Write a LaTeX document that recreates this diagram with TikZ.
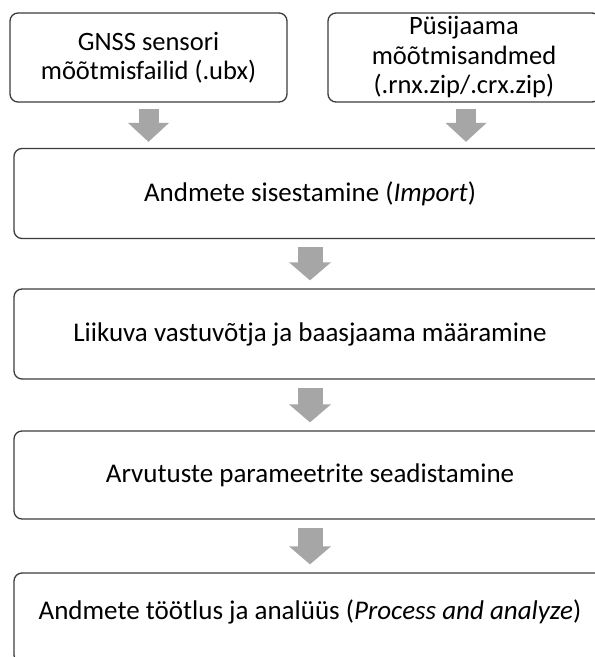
\documentclass[tikz,border=0pt]{standalone}
\usepackage{fontspec}
\setmainfont{Carlito}
\usetikzlibrary{arrows.meta}
\definecolor{boxline}{HTML}{3C3C3C}
\definecolor{arrowgray}{HTML}{A6A6A6}
\tikzset{
  flowbox/.style={draw=boxline, line width=1.3pt, rounded corners=8pt, fill=white, inner sep=0pt, align=center, font=\fontsize{26.5}{29.5}\selectfont},
  mainbox/.style={flowbox, minimum width=592pt, minimum height=90pt, font=\fontsize{27}{30}\selectfont},
  blockarrow/.style={draw=arrowgray, line width=25pt, -{Triangle[width=41pt,length=18pt,fill=arrowgray]}, shorten <=8pt, shorten >=8pt},
  smallarrow/.style={draw=arrowgray, line width=20pt, -{Triangle[width=40pt,length=19pt,fill=arrowgray]}, shorten <=6pt, shorten >=6pt}
}
\begin{document}
\begin{tikzpicture}[x=1pt,y=-1pt]
\clip (0,0) rectangle (595,657);
\fill[white] (0,0) rectangle (595,657);
\node[flowbox, minimum width=277pt, minimum height=89pt] (b1) at (148.5,57.5) {GNSS sensori\\mõõtmisfailid (.ubx)};
\node[flowbox, minimum width=272pt, minimum height=89pt] (b2) at (464,57.5) {Püsijaama\\mõõtmisandmed\\(.rnx.zip/.crx.zip)};
\node[mainbox] (b3) at (310,193.5) {Andmete sisestamine (\textit{Import})};
\node[mainbox] (b4) at (310,334) {Liikuva vastuvõtja ja baasjaama määramine};
\node[mainbox, minimum height=88pt] (b5) at (310,475) {Arvutuste parameetrite seadistamine};
\node[mainbox, minimum height=90pt] (b6) at (310,618) {};
\node[font=\fontsize{27}{30}\selectfont] (t6) at (310,612) {Andmete töötlus ja analüüs (\textit{Process and analyze})};
\draw[smallarrow] (b1.south) -- (b1.south |- b3.north);
\draw[smallarrow] ([xshift=2pt]b2.south) -- ([xshift=2pt]b2.south |- b3.north);
\draw[blockarrow] (b3.south) -- (b4.north);
\draw[blockarrow] (b4.south) -- (b5.north);
\draw[blockarrow] (b5.south) -- (b6.north);
\end{tikzpicture}
\end{document}
